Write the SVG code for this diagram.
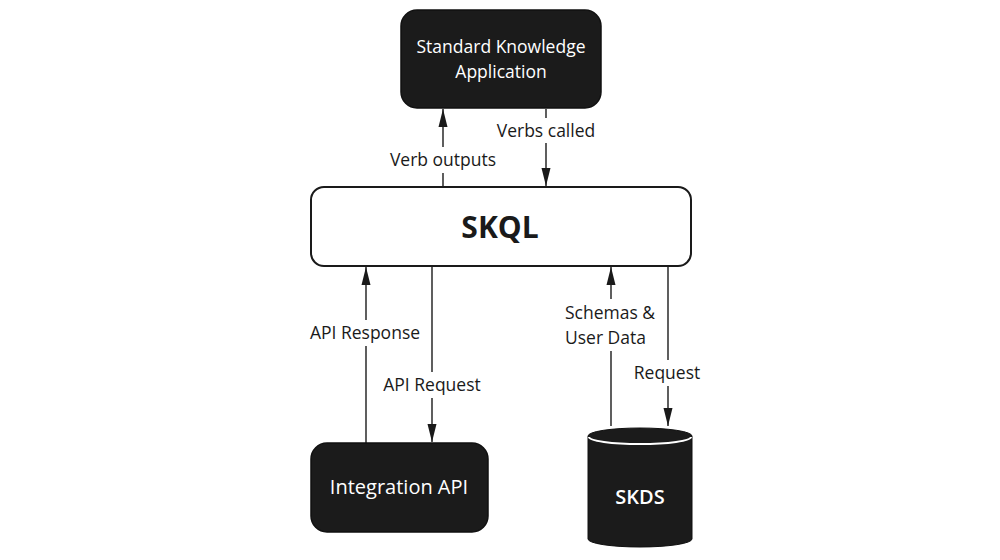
<svg xmlns="http://www.w3.org/2000/svg" width="1000" height="560" viewBox="0 0 1000 560">
<defs>
<style>
.dark{fill:#1b1b1b;stroke:#111;stroke-width:1.5}
.lbl{font-family:"Open Sans","DejaVu Sans",sans-serif;font-size:17.5px;fill:#1a1a1a}
.wt{font-family:"Open Sans","DejaVu Sans",sans-serif;fill:#ffffff}
.conn{stroke:#1a1a1a;stroke-width:1.4;fill:none}
.bg{fill:#ffffff}
</style>
<marker id="ah" viewBox="0 0 18 10" refX="18" refY="5" markerWidth="18" markerHeight="10" markerUnits="userSpaceOnUse" orient="auto">
<path d="M0,0.5 L18,5 L0,9.5 Z" fill="#1a1a1a"/>
</marker>
</defs>
<rect width="1000" height="560" fill="#ffffff"/>
<g id="connectors">
<line class="conn" x1="443" y1="187" x2="443" y2="109" marker-end="url(#ah)"/>
<line class="conn" x1="546" y1="109" x2="546" y2="186" marker-end="url(#ah)"/>
<line class="conn" x1="366" y1="443" x2="366" y2="267" marker-end="url(#ah)"/>
<line class="conn" x1="432" y1="267" x2="432" y2="442" marker-end="url(#ah)"/>
<line class="conn" x1="611" y1="426" x2="611" y2="267" marker-end="url(#ah)"/>
<line class="conn" x1="668" y1="267" x2="668" y2="426" marker-end="url(#ah)"/>
<rect class="bg" x="386" y="147" width="114" height="26"/>
<text class="lbl" x="443" y="166" text-anchor="middle">Verb outputs</text>
<rect class="bg" x="490" y="118" width="112" height="25"/>
<text class="lbl" x="546" y="137" text-anchor="middle">Verbs called</text>
<rect class="bg" x="306" y="320" width="118" height="26"/>
<text class="lbl" x="365" y="339" text-anchor="middle">API Response</text>
<rect class="bg" x="380" y="372" width="105" height="26"/>
<text class="lbl" x="432" y="391" text-anchor="middle">API Request</text>
<rect class="bg" x="562" y="299" width="98" height="52"/>
<text class="lbl" x="565" y="319">Schemas &amp;</text>
<text class="lbl" x="565" y="344">User Data</text>
<rect class="bg" x="630" y="360" width="74" height="26"/>
<text class="lbl" x="667" y="379" text-anchor="middle">Request</text>
</g>
<g id="ska">
<rect class="dark" x="401" y="10" width="200" height="98" rx="16"/>
<text class="wt" x="501" y="53" font-size="17.5" text-anchor="middle">Standard Knowledge</text>
<text class="wt" x="501" y="78" font-size="17.5" text-anchor="middle">Application</text>
</g>
<g id="skql">
<rect x="311" y="187" width="380" height="79" rx="13" fill="#ffffff" stroke="#1a1a1a" stroke-width="2"/>
<text x="500" y="238" font-family="'Open Sans','DejaVu Sans',sans-serif" font-size="30" font-weight="bold" fill="#1a1a1a" text-anchor="middle">SKQL</text>
</g>
<g id="integration">
<rect class="dark" x="311" y="443" width="177" height="89" rx="16"/>
<text class="wt" x="399" y="494" font-size="20" text-anchor="middle">Integration API</text>
</g>
<g id="skds">
<path d="M588,436 L588,539 A52,8 0 0 0 692,539 L692,436 A52,8 0 0 0 588,436 Z" fill="#1b1b1b" stroke="#111" stroke-width="1"/>
<path d="M589,437 A51,7 0 0 0 691,437" fill="none" stroke="#ffffff" stroke-width="2"/>
<text class="wt" x="640" y="504" font-size="20" font-weight="600" text-anchor="middle">SKDS</text>
</g>
</svg>
